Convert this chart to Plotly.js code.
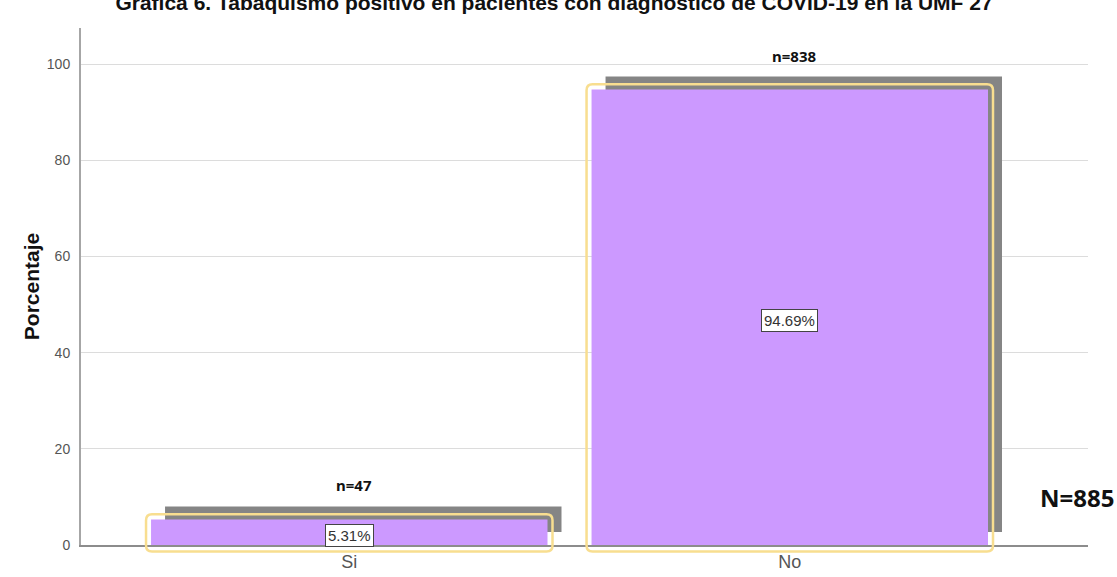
<!DOCTYPE html>
<html>
<head>
<meta charset="utf-8">
<script src="https://cdn.plot.ly/plotly-3.0.1.min.js"></script>
<style>html,body{margin:0;padding:0;background:#fff;}#chart{width:1117px;height:577px;}</style>
</head>
<body>
<div id="chart"></div>
<script>
// ---- data ----
const categories = ["Si", "No"];
const percentages = [5.31, 94.69];
const counts = [47, 838];
const totalN = 885;
const yTicks = [0, 20, 40, 60, 80, 100];
const titleText = "Gráfica 6. Tabaquismo positivo en pacientes con diagnóstico de COVID-19 en la UMF 27";

// ---- geometry / style ----
const W = 1117, H = 577;
const M = {l: 81, r: 29, t: 28, b: 32};
const plotW = W - M.l - M.r, plotH = H - M.t - M.b;
const xRange = [-0.609, 1.677];
const yRange = [0, 107.5];
const pxPerX = plotW / (xRange[1] - xRange[0]);
const pxPerY = plotH / (yRange[1] - yRange[0]);
const barW = 0.9;
const shadowDx = 14 / pxPerX, shadowDy = 13 / pxPerY;

const xIdx = categories.map((c, i) => i);

const shadow = {
  type: "bar", x: xIdx.map(i => i + shadowDx), y: percentages, base: shadowDy,
  width: barW, marker: {color: "#858585"}, hoverinfo: "skip", showlegend: false
};
const bars = {
  type: "bar", x: xIdx, y: percentages, width: barW,
  marker: {color: "#cc99ff"}, showlegend: false,
  hovertemplate: "%{y:.2f}%<extra></extra>"
};

function toPaperY(v) { return (v - yRange[0]) / (yRange[1] - yRange[0]); }
const padX = 5 / pxPerX;
const rX = 6 / pxPerX, rY = 6 / plotH;
const shapes = percentages.map((v, i) => {
  const x0 = i - barW / 2 - padX, x1 = i + barW / 2 + padX;
  const y0 = toPaperY(-6.5 / pxPerY), y1 = toPaperY(v + 1.1);
  const p = `M ${x0 + rX},${y0} L ${x1 - rX},${y0} Q ${x1},${y0} ${x1},${y0 + rY} ` +
            `L ${x1},${y1 - rY} Q ${x1},${y1} ${x1 - rX},${y1} L ${x0 + rX},${y1} ` +
            `Q ${x0},${y1} ${x0},${y1 - rY} L ${x0},${y0 + rY} Q ${x0},${y0} ${x0 + rX},${y0} Z`;
  return {type: "path", xref: "x", yref: "paper", path: p, layer: "above",
          line: {color: "#f8de90", width: 2.5}, fillcolor: "rgba(0,0,0,0)"};
});

const annotations = [];
percentages.forEach((v, i) => {
  annotations.push({
    x: i, y: v / 2, xref: "x", yref: "y", text: v.toFixed(2) + "%", showarrow: false,
    yshift: -3, font: {family: "Arial, Liberation Sans, sans-serif", size: 15, color: "#333"},
    bgcolor: "#ffffff", bordercolor: "#444", borderwidth: 1, borderpad: 2
  });
  annotations.push({
    x: i + 0.01, y: v, xref: "x", yref: "y", text: "<b>n=" + counts[i] + "</b>", showarrow: false,
    yshift: 34, font: {family: "Noto Sans, sans-serif", size: 15, color: "#111"}
  });
});
// N label: pixel position converted to paper coords
const nPx = {x: 1077, y: 497};
annotations.push({
  x: (nPx.x - M.l) / plotW, y: (H - M.b - nPx.y) / plotH, xref: "paper", yref: "paper",
  xanchor: "center", yanchor: "middle",
  text: "<b>N=" + totalN + "</b>", showarrow: false,
  font: {family: "Noto Sans, sans-serif", size: 24, color: "#111"}
});

const layout = {
  width: W, height: H,
  margin: M,
  paper_bgcolor: "#ffffff", plot_bgcolor: "#ffffff",
  barmode: "overlay",
  title: {
    text: "<b>" + titleText + "</b>", x: 554 / W, xanchor: "center",
    yref: "container", y: 1 - 3 / H, yanchor: "middle",
    font: {family: "Arial, Liberation Sans, sans-serif", size: 21, color: "#111"}
  },
  xaxis: {
    range: xRange, tickvals: xIdx, ticktext: categories, showgrid: false, zeroline: false,
    showline: true, linecolor: "#8c8c8c", linewidth: 1.5, ticks: "",
    tickfont: {family: "Arial, Liberation Sans, sans-serif", size: 18, color: "#555"},
    fixedrange: true
  },
  yaxis: {
    range: yRange, tickvals: yTicks, showgrid: true, gridcolor: "#dcdcdc", gridwidth: 1,
    zeroline: false, showline: true, linecolor: "#a6a6a6", linewidth: 2, ticks: "",
    ticklabelstandoff: 6,
    tickfont: {family: "Arial, Liberation Sans, sans-serif", size: 14, color: "#555"},
    title: {text: "<b>Porcentaje</b>", standoff: 1,
            font: {family: "Arial, Liberation Sans, sans-serif", size: 21, color: "#111"}},
    fixedrange: true
  },
  shapes: shapes,
  annotations: annotations,
  showlegend: false
};

Plotly.newPlot("chart", [shadow, bars], layout, {displayModeBar: false});
</script>
</body>
</html>
